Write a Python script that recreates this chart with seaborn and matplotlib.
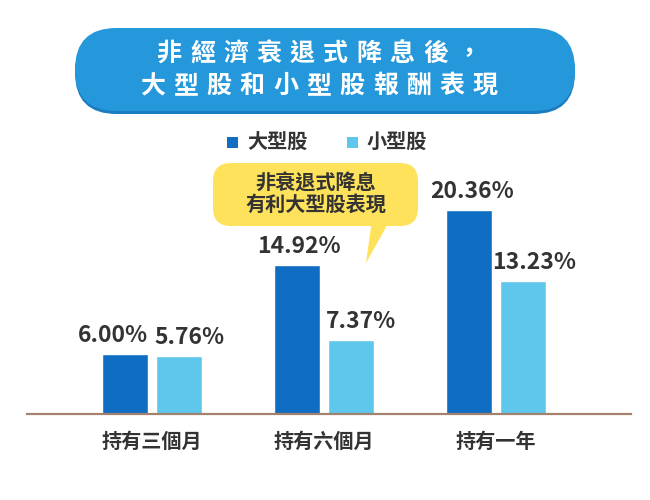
import pandas as pd
import seaborn as sns
import matplotlib.pyplot as plt
from matplotlib.patches import FancyBboxPatch, Polygon

# data
periods = ["持有三個月", "持有六個月", "持有一年"]
large_cap = [6.00, 14.92, 20.36]
small_cap = [5.76, 7.37, 13.23]
series_names = ["大型股", "小型股"]
title_lines = ["非經濟衰退式降息後，", "大型股和小型股報酬表現"]
callout_lines = ["非衰退式降息", "有利大型股表現"]

colors = {"大型股": "#0f6dc3", "小型股": "#5fc6ec"}
text_color = "#333333"

sns.set_theme(style="white")
plt.rcParams["font.family"] = ["Noto Sans CJK TC", "DejaVu Sans"]

df = pd.DataFrame({
    "period": periods * 2,
    "series": [series_names[0]] * 3 + [series_names[1]] * 3,
    "value": large_cap + small_cap,
})

W, H = 650, 500
fig = plt.figure(figsize=(W / 100, H / 100), dpi=100)
ax = fig.add_axes([27 / W, 1 - 414 / H, 604 / W, 264 / H])

sns.barplot(data=df, x="period", y="value", hue="series", hue_order=series_names,
            palette=colors, width=0.62, gap=0.14, saturation=1, ax=ax, legend=False)

ax.set_xlim(-0.727, 2.785)
ax.set_ylim(0, 26.35)
ax.set_xlabel("")
ax.set_ylabel("")
ax.set_yticks([])
for side in ["top", "left", "right"]:
    ax.spines[side].set_visible(False)
ax.spines["bottom"].set_color("#a3836b")
ax.spines["bottom"].set_linewidth(1.6)
ax.tick_params(axis="x", length=0, pad=12, labelsize=14.5, labelcolor=text_color)
for lbl in ax.get_xticklabels():
    lbl.set_fontweight("bold")

# value labels, nudged sideways a little like the original
nudge = {0: [-12, 2, 3], 1: [11, 10, 11]}
for i, cont in enumerate(ax.containers):
    for j, bar in enumerate(cont):
        v = bar.get_height()
        ax.annotate(f"{v:.2f}%", xy=(bar.get_x() + bar.get_width() / 2, v),
                    xytext=(nudge[i][j], 7), textcoords="offset pixels",
                    ha="center", va="bottom", fontsize=16.5, fontweight="bold",
                    color=text_color)

# overlay in pixel coordinates for the decorations
ov = fig.add_axes([0, 0, 1, 1], facecolor="none")
ov.set_xlim(0, W)
ov.set_ylim(H, 0)
ov.axis("off")

# title pill
ov.add_patch(FancyBboxPatch((75, 31), 500, 83, boxstyle="round,pad=0,rounding_size=41.5",
                            fc="#1b7dc0", ec="none"))
ov.add_patch(FancyBboxPatch((75, 28), 500, 83, boxstyle="round,pad=0,rounding_size=41.5",
                            fc="#2598dc", ec="none"))
pitch = 33.3
for line, yc in zip(title_lines, [54, 86]):
    n = len(line)
    for k, ch in enumerate(line):
        ov.text(319 + (k - (n - 1) / 2) * pitch, yc, ch, ha="center", va="center",
                fontsize=18, fontweight="bold", color="white")

# legend
for (sx, name) in zip([227, 347], series_names):
    ov.add_patch(plt.Rectangle((sx, 136.5), 11, 11, fc=colors[name], ec="none"))
    ov.text(sx + 20, 142, name, ha="left", va="center", fontsize=14.5,
            fontweight="bold", color=text_color)

# callout bubble
ov.add_patch(Polygon([[372, 220], [390, 220], [366, 263]], closed=True,
                     fc="#fee25b", ec="none"))
ov.add_patch(FancyBboxPatch((213, 163), 205, 63, boxstyle="round,pad=0,rounding_size=18",
                            fc="#fee25b", ec="none"))
for line, yc in zip(callout_lines, [183, 204]):
    ov.text(316, yc, line, ha="center", va="center", fontsize=14.5,
            fontweight="bold", color=text_color)

fig.savefig("out.png", dpi=100, facecolor="white")
